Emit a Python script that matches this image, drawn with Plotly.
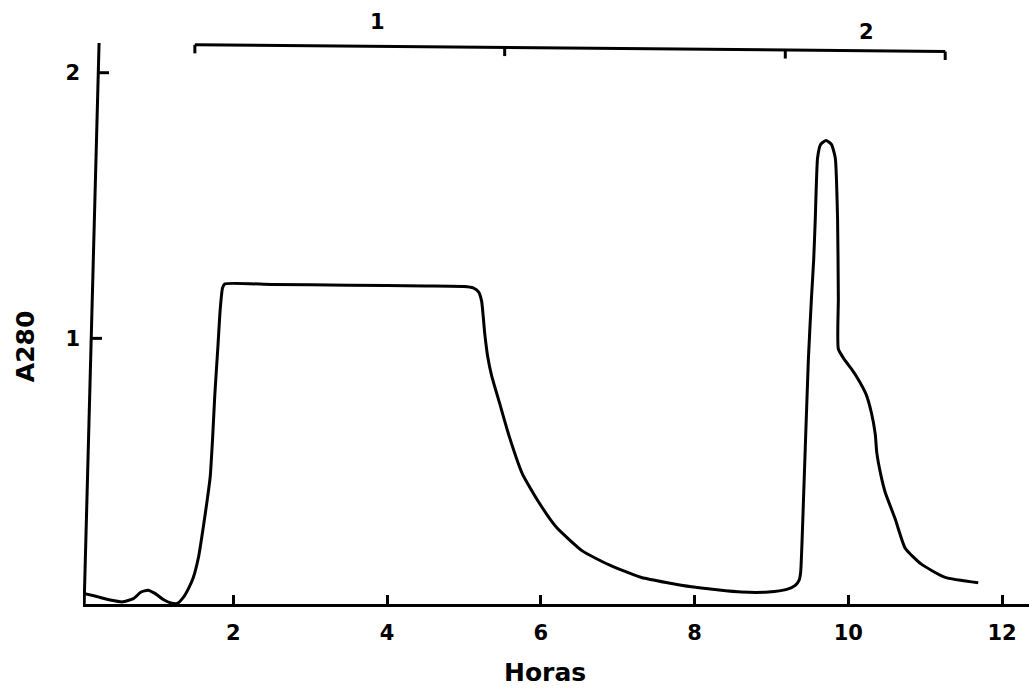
import plotly.graph_objects as go

# ---- data ----
horas = [0.05, 0.2, 0.4, 0.56, 0.7, 0.8, 0.89, 0.98, 1.1, 1.2, 1.27, 1.35, 1.42, 1.48,
         1.55, 1.61, 1.66, 1.70, 1.73, 1.76, 1.80, 1.83, 1.86, 1.89, 2.5, 3.5, 4.5, 5.0,
         5.12, 5.19, 5.23, 5.27, 5.31, 5.36, 5.46, 5.59, 5.76, 5.98, 6.2, 6.54, 6.89,
         7.31, 7.96, 8.61, 8.96, 9.2, 9.31, 9.36, 9.38, 9.42, 9.48, 9.52, 9.55, 9.57,
         9.60, 9.64, 9.71, 9.78, 9.83, 9.86, 9.87, 9.87, 9.95, 10.04, 10.12, 10.23,
         10.30, 10.35, 10.37, 10.42, 10.48, 10.61, 10.74, 10.95, 11.26, 11.69]
a280 = [0.04, 0.03, 0.015, 0.008, 0.02, 0.045, 0.052, 0.04, 0.015, 0.003, 0.002, 0.025,
        0.06, 0.10, 0.18, 0.29, 0.39, 0.48, 0.62, 0.79, 0.97, 1.11, 1.19, 1.205, 1.203,
        1.20, 1.197, 1.195, 1.19, 1.175, 1.14, 1.02, 0.93, 0.86, 0.76, 0.63, 0.49, 0.38,
        0.29, 0.20, 0.147, 0.10, 0.065, 0.045, 0.045, 0.055, 0.07, 0.09, 0.12, 0.42,
        0.92, 1.15, 1.30, 1.45, 1.68, 1.73, 1.745, 1.73, 1.68, 1.45, 1.15, 0.96, 0.92,
        0.885, 0.85, 0.79, 0.72, 0.64, 0.57, 0.49, 0.42, 0.32, 0.21, 0.15, 0.10, 0.08]

x_ticks = [2, 4, 6, 8, 10, 12]
y_ticks = [1, 2]
fraction_bounds = [1.5, 5.53, 9.18, 11.26]   # bracket tick marks (hours)
fraction_labels = ["1", "2"]
fraction_label_x = [3.87, 10.23]

FONT = "DejaVu Sans"

fig = go.Figure()
fig.add_trace(go.Scatter(x=horas, y=a280, mode="lines",
                         line=dict(color="black", width=3, shape="spline", smoothing=0.5),
                         showlegend=False, hoverinfo="skip"))

shapes = []
# tilted y-axis line (as in the scanned original)
ax_x0, ax_y0, ax_x1, ax_y1 = 0.06, 0.0, 0.254, 2.112
shapes.append(dict(type="line", xref="x", yref="y", x0=ax_x0, y0=ax_y0, x1=ax_x1, y1=ax_y1,
                   line=dict(color="black", width=3)))
for yv in y_ticks:
    xa = ax_x0 + (ax_x1 - ax_x0) * (yv - ax_y0) / (ax_y1 - ax_y0)
    shapes.append(dict(type="line", xref="x", yref="y", x0=xa, y0=yv, x1=xa + 0.14, y1=yv,
                       line=dict(color="black", width=3)))

# fraction bracket on top
b_y_left, b_y_right = 2.105, 2.08
def by(x):
    return b_y_left + (b_y_right - b_y_left) * (x - fraction_bounds[0]) / (fraction_bounds[-1] - fraction_bounds[0])
shapes.append(dict(type="line", xref="x", yref="y", x0=fraction_bounds[0], y0=by(fraction_bounds[0]),
                   x1=fraction_bounds[-1], y1=by(fraction_bounds[-1]),
                   line=dict(color="black", width=3)))
for xb in fraction_bounds:
    shapes.append(dict(type="line", xref="x", yref="y", x0=xb, y0=by(xb), x1=xb, y1=by(xb) - 0.032,
                       line=dict(color="black", width=3)))

annotations = []
label_y = [2.19, 2.155]
for lab, lx, ly in zip(fraction_labels, fraction_label_x, label_y):
    annotations.append(dict(x=lx, y=ly, xref="x", yref="y", text=lab, showarrow=False,
                            font=dict(family=FONT, size=21, color="black", weight="bold")))
annotations.append(dict(x=0.488, y=-0.1128, xref="paper", yref="paper", text="Horas",
                        showarrow=False, xanchor="center", yanchor="middle",
                        font=dict(family=FONT, size=25, color="black", weight="bold")))
annotations.append(dict(x=-0.060, y=0.428, xref="paper", yref="paper", text="A280",
                        showarrow=False, textangle=-90, xanchor="center", yanchor="middle",
                        font=dict(family=FONT, size=25, color="black", weight="bold")))

fig.update_layout(
    width=1029, height=688,
    margin=dict(l=83, r=0, t=1, b=84),
    paper_bgcolor="white", plot_bgcolor="white",
    shapes=shapes, annotations=annotations,
    xaxis=dict(range=[0.045, 12.35], showgrid=False, zeroline=False,
               showline=True, linecolor="black", linewidth=3,
               ticks="inside", ticklen=9, tickwidth=3, tickcolor="black",
               tickvals=x_ticks, ticktext=[str(v) for v in x_ticks],
               ticklabelstandoff=8,
               tickfont=dict(family=FONT, size=21, color="black", weight="bold")),
    yaxis=dict(range=[0, 2.27], showgrid=False, zeroline=False, showline=False,
               ticks="", tickvals=y_ticks, ticktext=[str(v) for v in y_ticks],
               ticklabelstandoff=2,
               tickfont=dict(family=FONT, size=21, color="black", weight="bold")),
)

fig.write_html("out.html", config={"displayModeBar": False},
               post_script="document.body.style.margin='0';")
